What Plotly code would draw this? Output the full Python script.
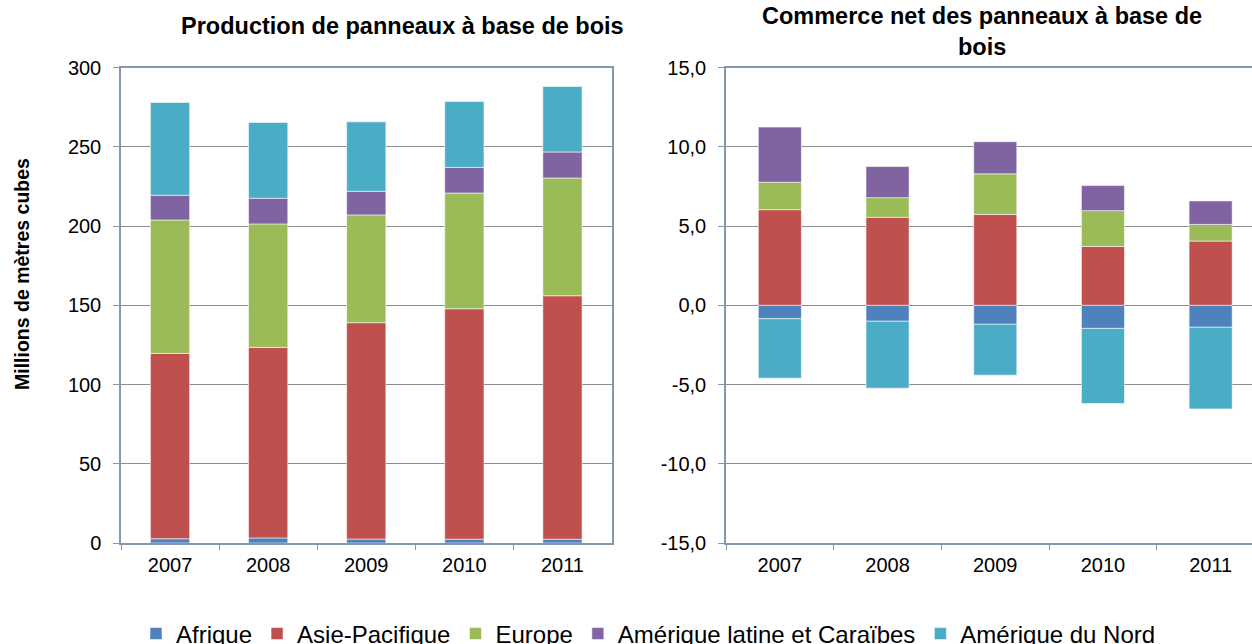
import plotly.graph_objects as go
from plotly.subplots import make_subplots

years = ["2007", "2008", "2009", "2010", "2011"]
regions = ["Afrique", "Asie-Pacifique", "Europe", "Amérique latine et Caraïbes", "Amérique du Nord"]

# production, millions m3
prod_afrique = [2.7, 3.2, 2.5, 2.4, 2.4]
prod_asie = [116.9, 120.2, 136.5, 145.4, 153.6]
prod_europe = [84.2, 77.9, 68.0, 73.0, 74.3]
prod_latam = [15.6, 16.2, 14.9, 16.2, 16.4]
prod_nord = [58.5, 47.8, 43.8, 41.5, 41.3]

# net trade, millions m3
trade_afrique = [-0.85, -1.01, -1.20, -1.46, -1.39]
trade_asie = [6.03, 5.55, 5.73, 3.71, 4.05]
trade_europe = [1.73, 1.24, 2.56, 2.26, 1.05]
trade_latam = [3.48, 1.96, 2.03, 1.58, 1.48]
trade_nord = [-3.75, -4.22, -3.21, -4.74, -5.15]

prod_ticks = [0, 50, 100, 150, 200, 250, 300]
trade_ticks = [-15, -10, -5, 0, 5, 10, 15]
trade_ticktext = ["-15,0", "-10,0", "-5,0", "0,0", "5,0", "10,0", "15,0"]

colors = ["#4F81BD", "#C0504D", "#9BBB59", "#8064A2", "#4BACC6"]

W, H = 1252, 644
FONT = "Liberation Sans, Arial, sans-serif"


def main() -> None:
    fig = make_subplots(rows=1, cols=2)

    prod = [prod_afrique, prod_asie, prod_europe, prod_latam, prod_nord]
    trade = [trade_afrique, trade_asie, trade_europe, trade_latam, trade_nord]

    for name, color, p, t in zip(regions, colors, prod, trade):
        line = dict(color="rgba(255,255,255,0.55)", width=1)
        fig.add_trace(
            go.Bar(x=years, y=p, name=name, marker_color=color, marker_line=line,
                   legendgroup=name, width=0.4),
            row=1, col=1,
        )
        fig.add_trace(
            go.Bar(x=years, y=t, name=name, marker_color=color, marker_line=line,
                   legendgroup=name, showlegend=False, width=0.4),
            row=1, col=2,
        )

    ydom = [1 - 543 / H, 1 - 67.5 / H]
    axis_line = "#8497B0"
    grid = "#8C8C8C"
    tickfont = dict(family=FONT, size=20, color="#000000")

    fig.update_xaxes(
        tickson="boundaries", ticks="outside", ticklen=5, tickcolor=axis_line,
        showline=True, linecolor=axis_line, linewidth=1.5, mirror=True,
        showgrid=False, tickfont=tickfont, ticklabelstandoff=3,
    )
    fig.update_yaxes(
        ticks="outside", ticklen=6, tickcolor=axis_line, showline=True,
        linecolor=axis_line, linewidth=1.5, showgrid=True, gridcolor=grid,
        gridwidth=1, zeroline=False, tickfont=tickfont, ticklabelstandoff=8,
    )
    fig.update_xaxes(domain=[121 / W, 611.5 / W], range=[-0.5, 4.5], row=1, col=1)
    fig.update_xaxes(domain=[726 / W, 1.0], range=[-0.5, 4.384], row=1, col=2)
    fig.update_yaxes(domain=ydom, range=[0, 300], tickvals=prod_ticks, mirror=True,
                     row=1, col=1)
    fig.update_yaxes(domain=ydom, range=[-15, 15], tickvals=trade_ticks,
                     ticktext=trade_ticktext, mirror=False, row=1, col=2)

    title_font = dict(family=FONT, size=23.5, color="#000000")
    fig.add_annotation(text="<b>Production de panneaux à base de bois</b>",
                       x=402 / W, y=1 - 26 / H, xref="paper", yref="paper",
                       xanchor="center", yanchor="middle",
                       showarrow=False, font=title_font)
    fig.add_annotation(text="<b>Commerce net des panneaux à base de<br>bois</b>",
                       x=982 / W, y=1 - 32 / H, xref="paper", yref="paper",
                       xanchor="center", yanchor="middle",
                       showarrow=False, font=title_font)
    fig.add_annotation(text="<b>Millions de mètres cubes</b>", textangle=-90,
                       x=22 / W, y=1 - 274 / H, xref="paper", yref="paper",
                       xanchor="center", yanchor="middle",
                       showarrow=False, font=dict(family=FONT, size=19.5, color="#000000"))

    fig.update_layout(
        width=W, height=H, barmode="relative", bargap=0.6,
        plot_bgcolor="white", paper_bgcolor="white",
        margin=dict(l=0, r=0, t=0, b=0, autoexpand=False),
        font=dict(family=FONT, color="#000000"),
        legend=dict(orientation="h", x=136 / W, y=1 - 634 / H, xanchor="left",
                    yanchor="middle", font=dict(family=FONT, size=24),
                    itemwidth=30, tracegroupgap=0),
    )
    fig.write_html("out.html", config={"displayModeBar": False},
                   post_script="document.body.style.margin='0';")


if __name__ == "__main__":
    main()
